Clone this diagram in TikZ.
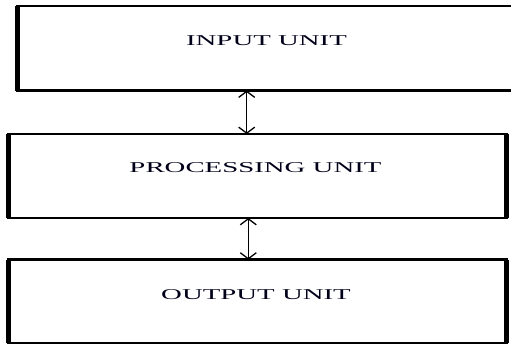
\documentclass[tikz,border=0pt]{standalone}
\usepackage{fontspec}
\setmainfont{Liberation Serif}
\usetikzlibrary{arrows.meta}
\tikzset{
  unitbox/.style={draw, rectangle, line width=2.5pt, outer sep=0pt, inner sep=0pt},
  heavyside/.style={line width=5pt},
  unittext/.style={font=\fontsize{15}{17}\selectfont, inner sep=0pt, text=black!90!blue},
  linkarrow/.style={line width=1.4pt, {Straight Barb[length=6pt,width=16pt,line width=1.3pt]}-{Straight Barb[length=6pt,width=16pt,line width=1.3pt]}}
}
\newcommand{\wtext}[1]{\scalebox{1.92}[1]{#1}}
\begin{document}
\begin{tikzpicture}[x=1pt,y=-1pt]
\useasboundingbox (0,0) rectangle (511,347);
% boxes
\node[unitbox, minimum width=497pt, minimum height=84.5pt] (b1) at (266,48.3) {};
\node[unitbox, minimum width=498pt, minimum height=84pt] (b2) at (257.5,176) {};
\node[unitbox, minimum width=498pt, minimum height=83.5pt] (b3) at (257.5,301.3) {};
% heavy sides
\draw[heavyside] (b1.north west) -- (b1.south west);
\draw[heavyside] (b2.north west) -- (b2.south west);
\draw[heavyside] (b2.north east) -- (b2.south east);
\draw[heavyside] (b3.north west) -- (b3.south west);
\draw[heavyside] (b3.north east) -- (b3.south east);
% texts
\node[unittext] (t1) at (266.5,41) {\wtext{INPUT UNIT}};
\node[unittext] (t2) at (255.5,167.5) {\wtext{PROCESSING UNIT}};
\node[unittext] (t3) at (256,294.5) {\wtext{OUTPUT UNIT}};
% connectors
\coordinate (x1) at (246.7,0);
\coordinate (x2) at (248.3,0);
\draw[linkarrow] (b1.south -| x1) -- (b2.north -| x1);
\draw[linkarrow] (b2.south -| x2) -- (b3.north -| x2);
\end{tikzpicture}
\end{document}
